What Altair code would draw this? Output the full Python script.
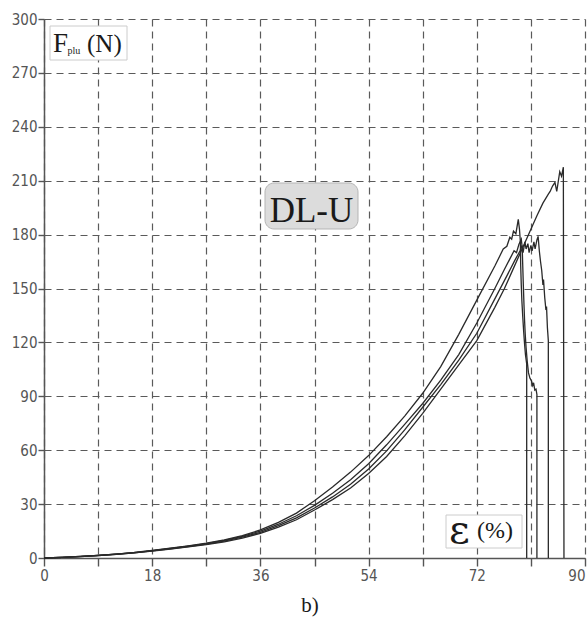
import altair as alt
import pandas as pd

# ---------------- data ----------------
x_grid = [0, 3, 6, 9, 12, 15, 18, 21, 24, 27, 30, 33, 36, 39, 42, 45, 48, 51,
          54, 57, 60, 63, 66, 69, 72, 75]

a_y = [0, 0.4, 0.9, 1.5, 2.2, 3.1, 4.3, 5.5, 6.8, 8.3, 10.1, 12.5, 15.6, 19.8,
       25, 31.9, 39.5, 47.8, 57, 67.5, 79, 91.7, 106.5, 124.5, 143.5, 162.5]
b_y = [0, 0.4, 0.85, 1.45, 2.15, 3.0, 4.1, 5.3, 6.6, 8.0, 9.8, 12.1, 15.0, 18.8,
       23.5, 29.3, 36, 43.5, 52.5, 63, 74.4, 86, 99, 113.2, 130.8, 150]
c_y = [0, 0.35, 0.8, 1.4, 2.1, 2.9, 4.0, 5.1, 6.4, 7.7, 9.4, 11.6, 14.3, 18,
       22.3, 27.8, 34, 41, 49.5, 59.6, 71.3, 83.9, 96.5, 110.1, 125.1, 144.2]
d_y = [0, 0.35, 0.8, 1.35, 2.0, 2.8, 3.9, 5.0, 6.2, 7.4, 9.0, 11.1, 13.7, 17.2,
       21.3, 26.7, 32.5, 39, 47, 56.5, 68, 80.5, 94, 107.5, 121, 139.5]

a_tail_x = [76.4, 77.0, 77.5, 77.8, 78.1, 78.5, 78.9, 79.1, 79.25, 79.3, 79.4,
            79.5, 79.65, 79.8, 79.95, 80.1, 80.3, 80.3]
a_tail_y = [172, 173.5, 178.5, 177.5, 182, 180.5, 188.5, 183, 176, 163, 152,
            143, 134, 126, 119, 113, 108, 0]

b_tail_x = [76.5, 77.5, 78.2, 78.6, 79.0, 79.4, 79.55, 79.65, 79.75, 79.85,
            79.95, 80.05, 80.2, 80.4, 80.6, 80.85, 81.1, 81.3, 81.45, 81.65,
            81.85, 82.0, 82.0]
b_tail_y = [160, 166.5, 171, 170, 174.5, 177.5, 173, 162, 151, 141, 132, 125,
            117, 109, 103, 100, 98.5, 96, 97.5, 93.5, 94, 91, 0]

c_tail_x = [77.0, 78.3, 79.2, 79.5, 79.7, 80.0, 80.2, 80.5, 80.7, 81.0, 81.2,
            81.5, 81.7, 82.0, 82.2, 82.4, 82.6, 82.8, 83.0, 83.1, 83.3, 83.5,
            83.6, 83.75, 83.9, 83.9]
c_tail_y = [157, 165.5, 171, 174, 170, 176, 172, 175, 170, 174, 171, 176, 172,
            177, 179, 171, 165, 160, 152, 155, 145, 138, 140, 128, 121, 0]

d_tail_x = [76.6, 78.0, 80.0, 81.0, 82.0, 83.0, 83.9, 84.2, 84.6, 85.0, 85.3,
            85.8, 86.1, 86.4, 86.5]
d_tail_y = [150, 160.5, 175.5, 183, 190.5, 197.5, 202.5, 204, 207, 209, 204,
            215, 212.5, 217.5, 0]

x_ticks = [0, 9, 18, 27, 36, 45, 54, 63, 72, 81, 90]
y_ticks = [0, 30, 60, 90, 120, 150, 180, 210, 240, 270, 300]

rows = []
for name, ys, tx, ty in [("A", a_y, a_tail_x, a_tail_y),
                         ("B", b_y, b_tail_x, b_tail_y),
                         ("C", c_y, c_tail_x, c_tail_y),
                         ("D", d_y, d_tail_x, d_tail_y)]:
    pts = list(zip(x_grid, ys)) + list(zip(tx, ty))
    for i, (xv, yv) in enumerate(pts):
        rows.append({"curve": name, "i": i, "strain": xv, "force": yv})
df = pd.DataFrame(rows)

# ---------------- styling ----------------
LABEL_FONT = "DejaVu Sans Condensed, Liberation Sans"
SERIF = "Liberation Serif"
GREY = "#555555"

x_axis = alt.Axis(
    values=x_ticks, title=None,
    labelExpr="datum.value % 18 == 0 ? datum.label : ''",
    labelAlign={"condition": {"test": "datum.value == 90", "value": "right"},
                "value": "center"},
    grid=True, gridDash=[7, 5], gridColor="#5a5a5a", gridWidth=1.2,
    domainColor=GREY, domainWidth=1.5,
    tickColor=GREY, tickSize=8, tickWidth=1.4,
    labelFont=LABEL_FONT, labelFontSize=15, labelColor=GREY, labelPadding=2,
)
y_axis = alt.Axis(
    values=y_ticks, title=None,
    grid=True, gridDash=[7, 5], gridColor="#5a5a5a", gridWidth=1.2,
    domainColor=GREY, domainWidth=1.5,
    tickColor=GREY, tickSize=6, tickWidth=1.4,
    labelFont=LABEL_FONT, labelFontSize=15, labelColor=GREY, labelPadding=1,
)

lines = alt.Chart(df).mark_line(color="#2a2a2a", strokeWidth=1.3).encode(
    x=alt.X("strain:Q", scale=alt.Scale(domain=[0, 90], nice=False, zero=False), axis=x_axis),
    y=alt.Y("force:Q", scale=alt.Scale(domain=[0, 300], nice=False, zero=False), axis=y_axis),
    detail="curve:N",
    order="i:Q",
)

one = pd.DataFrame({"k": [0]})

def box(x1, x2, y1, y2, fill, stroke, radius=0):
    return alt.Chart(one).mark_rect(fill=fill, stroke=stroke, strokeWidth=1,
                                    cornerRadius=radius).encode(
        x=alt.value(x1), x2=alt.value(x2), y=alt.value(y1), y2=alt.value(y2))

def txt(s, x, y, size, align="left", font=SERIF):
    return alt.Chart(one).mark_text(text=s, font=font, fontSize=size, align=align,
                                    baseline="alphabetic", color="#1a1a1a").encode(
        x=alt.value(x), y=alt.value(y))

f_box = box(6, 83, 7, 41, "white", "#cccccc")
f_t = txt("F", 9, 33, 27)
plu_t = txt("plu", 23.5, 35, 10)
n_t = txt("(N)", 43, 33, 25)

dl_box = box(221, 314, 164, 210, "#dcdcdc", "#b5b5b5", radius=9)
dl_t = txt("DL-U", 267.5, 203, 35, align="center")

e_box = box(402, 478, 496, 529, "white", "#cccccc")
e_t = txt("ε", 405, 524, 40, font="DejaVu Serif")
pct_t = txt("(%)", 433, 519, 24)

b_t = txt("b)", 266, 593, 21, align="center")

chart = alt.layer(
    lines, f_box, f_t, plu_t, n_t, dl_box, dl_t, e_box, e_t, pct_t, b_t
).properties(
    width=541, height=539,
    autosize=alt.AutoSizeParams(type="none"),
    padding={"left": 44, "top": 19, "right": 3, "bottom": 63},
    background="white",
).configure_view(stroke=None)

chart.save("out.html", embed_options={"renderer": "svg", "actions": False})
